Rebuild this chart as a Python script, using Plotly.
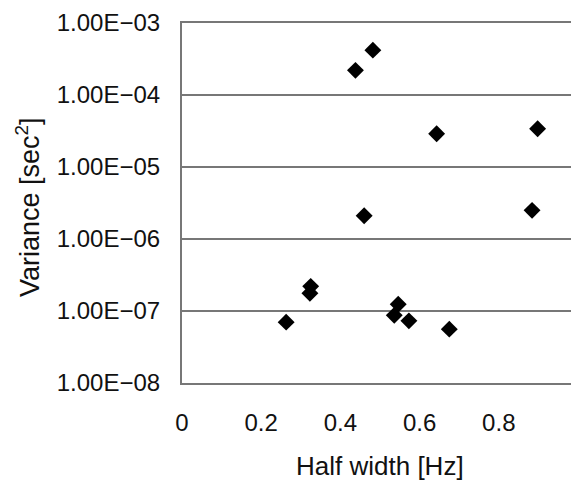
import plotly.graph_objects as go

half_width = [0.482, 0.438, 0.643, 0.898, 0.460, 0.884, 0.325, 0.323, 0.546, 0.536, 0.573, 0.675, 0.263]
variance = [4.2e-4, 2.2e-4, 2.9e-5, 3.4e-5, 2.1e-6, 2.5e-6, 2.2e-7, 1.76e-7, 1.24e-7, 8.7e-8, 7.3e-8, 5.6e-8, 7.0e-8]

y_tickvals = [1e-8, 1e-7, 1e-6, 1e-5, 1e-4, 1e-3]
y_ticktext = ["1.00E\u221208", "1.00E\u221207", "1.00E\u221206", "1.00E\u221205", "1.00E\u221204", "1.00E\u221203"]
x_tickvals = [0, 0.2, 0.4, 0.6, 0.8, 1]
x_ticktext = ["0", "0.2", "0.4", "0.6", "0.8", "1"]

font_family = "Liberation Sans, Arial, sans-serif"

fig = go.Figure()
fig.add_trace(go.Scatter(
    x=half_width, y=variance, mode="markers",
    marker=dict(symbol="diamond", size=13, color="black"),
    showlegend=False,
))

# page body has an 8px default margin; figure sized to fit the 579x485 window
OFF = 8
W, H = 579 - OFF, 485 - OFF
L, R, T, B = 182 - OFF, 1, 23 - OFF, 102
fig.update_layout(
    width=W, height=H,
    margin=dict(l=L, r=R, t=T, b=B, autoexpand=False),
    paper_bgcolor="white", plot_bgcolor="white",
    font=dict(family=font_family, size=24, color="#111111"),
)
fig.update_xaxes(
    range=[0, 1], tickmode="array", tickvals=x_tickvals, ticktext=x_ticktext,
    showgrid=False, zeroline=False, showline=True, linecolor="#777777", linewidth=2,
    mirror=True, ticks="", ticklabelstandoff=17, automargin=False,
    ticklabeloverflow="allow",
)
fig.update_yaxes(
    type="log", range=[-8, -3], tickmode="array", tickvals=y_tickvals, ticktext=y_ticktext,
    showgrid=True, gridcolor="#777777", gridwidth=2, zeroline=False,
    showline=True, linecolor="#777777", linewidth=2, mirror=True, ticks="",
    ticklabelstandoff=15, automargin=False, ticklabeloverflow="allow",
)

plot_w = W - L - R
plot_h = H - T - B
fig.add_annotation(
    text="Half width [Hz]", xref="paper", yref="paper",
    x=(380 - OFF - L) / plot_w, y=-(466 - OFF - (H - B)) / plot_h,
    xanchor="center", yanchor="middle", showarrow=False,
    font=dict(size=26),
)
fig.add_annotation(
    text="Variance [sec<sup>2</sup>]", xref="paper", yref="paper",
    x=-(L - (28 - OFF)) / plot_w, y=((H - B) - (207 - OFF)) / plot_h,
    xanchor="center", yanchor="middle", showarrow=False, textangle=-90,
    font=dict(size=27),
)

fig.write_html("out.html")
